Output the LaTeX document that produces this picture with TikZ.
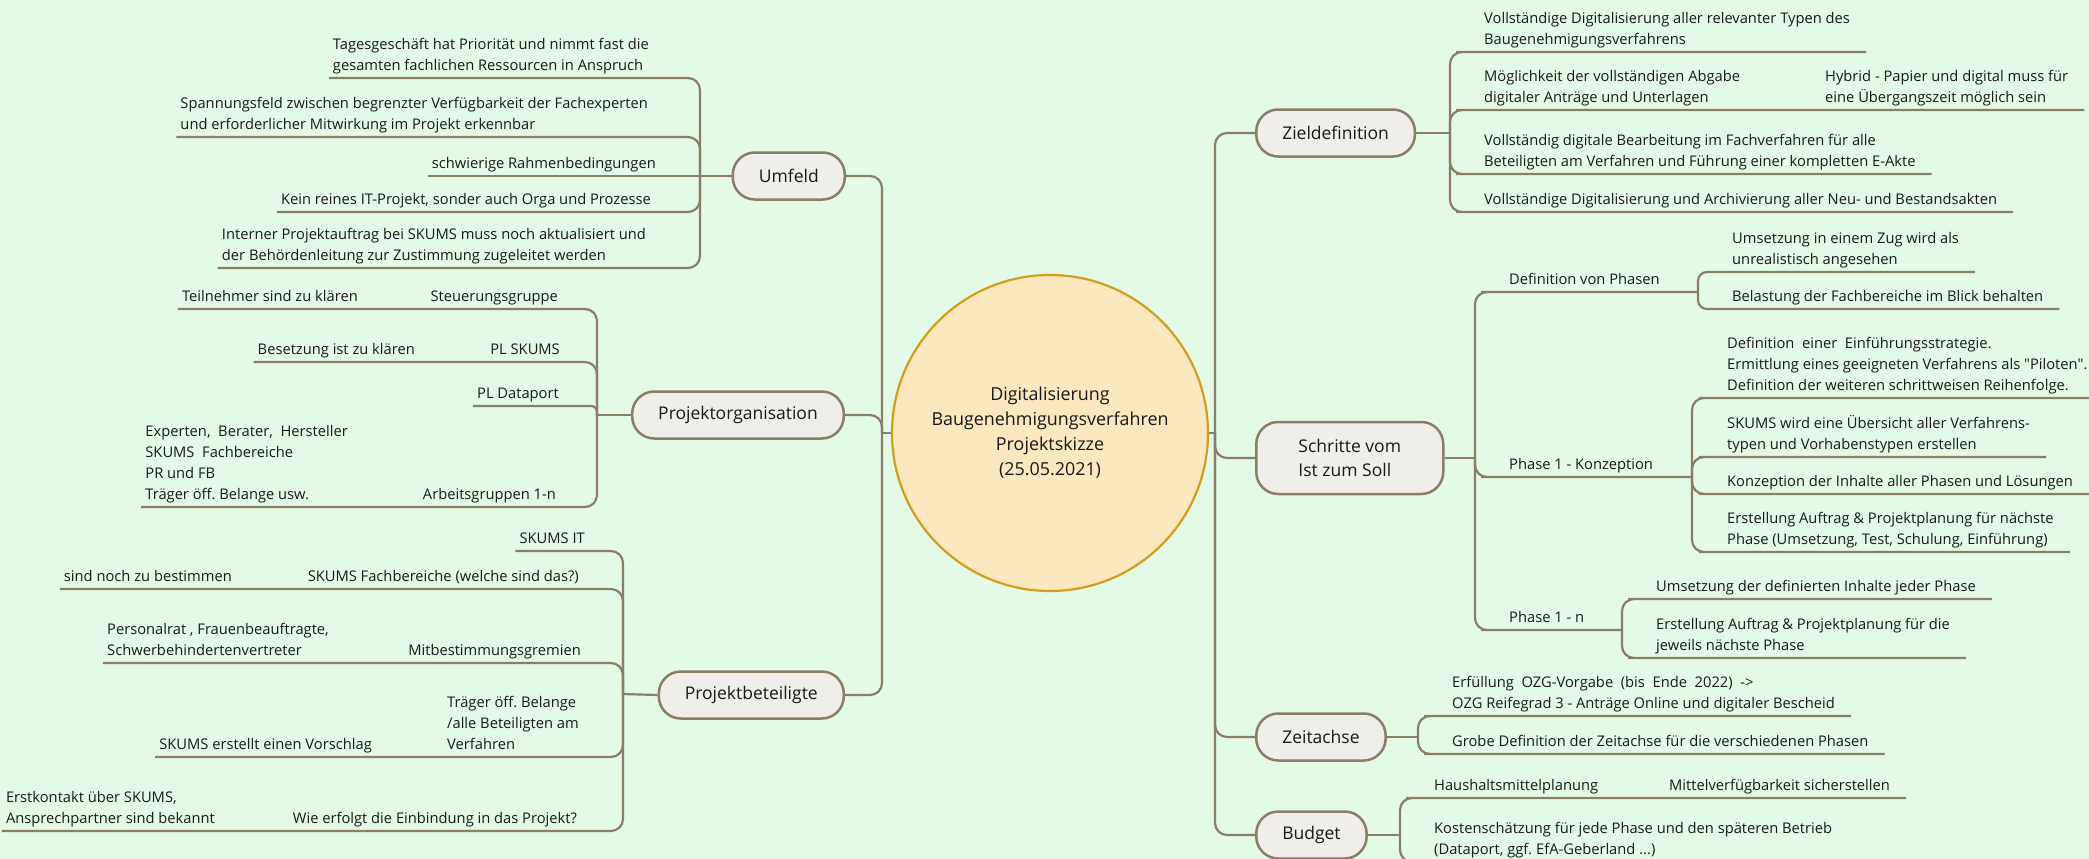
\documentclass[tikz,border=0pt]{standalone}
\usepackage{fontspec}
\setmainfont{Open Sans}
\frenchspacing

\definecolor{bgc}{RGB}{227,250,230}
\definecolor{linec}{RGB}{139,125,104}
\definecolor{topicfill}{RGB}{240,238,234}
\definecolor{hubfill}{RGB}{252,232,190}
\definecolor{hubline}{RGB}{212,157,30}
\definecolor{ink}{RGB}{25,25,25}

\begin{document}
\begin{tikzpicture}[x=1pt, y=-1pt,
    link/.style={draw=linec, line width=2.2pt, rounded corners=12pt},
    topic/.style={draw=linec, fill=topicfill, line width=2.5pt, rounded corners=22pt, minimum height=47pt, inner xsep=26pt, font=\fontsize{17.5}{24}\selectfont, text=ink},
    lleaf/.style={anchor=south east, align=left, inner xsep=4pt, inner ysep=1pt, font=\fontsize{14.7}{21}\selectfont, text=ink, execute at end node=\strut},
    rleaf/.style={lleaf, anchor=south west, inner xsep=16pt},
    hub/.style={circle, draw=hubline, fill=hubfill, line width=2.2pt, minimum size=316pt, align=center, font=\fontsize{17.9}{25}\selectfont, text=ink}
]
    \useasboundingbox (0,0) rectangle (2089,859);
    \clip (0,0) rectangle (2089,859);
    \fill[bgc] (0,0) rectangle (2089,859);

    % centre
    \node[hub] (hub) at (1050,433) {Digitalisierung\\Baugenehmigungsverfahren\\Projektskizze\\(25.05.2021)};
    \coordinate (ltr) at (882,433);
    \coordinate (rtr) at (1215,433);

    % left topics
    \node[topic, anchor=east] (umf) at (846,176) {Umfeld};
    \node[topic, anchor=east] (porg) at (845,415) {Projektorganisation};
    \node[topic, anchor=east] (pbet) at (845,695) {Projektbeteiligte};

    % right topics
    \node[topic, anchor=west] (zd) at (1255,133) {Zieldefinition};
    \node[topic, anchor=west, align=left, minimum height=72pt, minimum width=187pt] (sch) at (1255,458) {Schritte vom\\Ist zum Soll};
    \node[topic, anchor=west] (zeit) at (1255,737) {Zeitachse};
    \node[topic, anchor=west] (bud) at (1255,835) {Budget};

    \draw[link] (hub.west) -- (ltr);
    \draw[link] (ltr) |- (umf.east);
    \draw[link] (ltr) |- (porg.east);
    \draw[link] (ltr) |- (pbet.east);
    \draw[link] (hub.east) -- (rtr);
    \draw[link] (rtr) |- (zd.west);
    \draw[link] (rtr) |- (sch.west);
    \draw[link] (rtr) |- (zeit.west);
    \draw[link] (rtr) |- (bud.west);

    % Umfeld
    \coordinate (ubus) at (700,176);
    \node[lleaf] (u1) at (653,78) {Tagesgeschäft hat Priorität und nimmt fast die\\gesamten fachlichen Ressourcen in Anspruch};
    \node[lleaf] (u2) at (652,137) {Spannungsfeld zwischen begrenzter Verfügbarkeit der Fachexperten\\und erforderlicher Mitwirkung im Projekt erkennbar};
    \node[lleaf] (u3) at (660,176) {schwierige Rahmenbedingungen};
    \node[lleaf] (u4) at (655,212) {Kein reines IT-Projekt, sonder auch Orga und Prozesse};
    \node[lleaf] (u5) at (650,268) {Interner Projektauftrag bei SKUMS muss noch aktualisiert und\\der Behördenleitung zur Zustimmung zugeleitet werden};
    \draw[link] (umf.west) -- (ubus);
    \draw[link] (ubus) |- (u1.south east) -- (u1.south west);
    \draw[link] (ubus) |- (u2.south east) -- (u2.south west);
    \draw[link] (ubus) -- (u3.south east) -- (u3.south west);
    \draw[link] (ubus) |- (u4.south east) -- (u4.south west);
    \draw[link] (ubus) |- (u5.south east) -- (u5.south west);

    % Projektorganisation
    \coordinate (pobus) at (597,415);
    \node[lleaf] (sg) at (562,309) {Steuerungsgruppe};
    \node[lleaf] (tn) at (362,309) {Teilnehmer sind zu klären};
    \node[lleaf] (pls) at (564,362) {PL SKUMS};
    \node[lleaf] (bes) at (419,362) {Besetzung ist zu klären};
    \node[lleaf] (pld) at (563,406) {PL Dataport};
    \node[lleaf] (ag) at (560,507) {Arbeitsgruppen 1-n};
    \node[lleaf] (exp) at (352,507) {Experten,\ \ Berater,\ \ Hersteller\\SKUMS\ \ Fachbereiche\\PR und FB\\Träger öff. Belange usw.};
    \draw[link] (porg.west) -- (pobus);
    \draw[link] (pobus) |- (sg.south east) -- (tn.south west);
    \draw[link] (pobus) |- (pls.south east) -- (bes.south west);
    \draw[link, rounded corners=6pt] (pobus) |- (pld.south east) -- (pld.south west);
    \draw[link] (pobus) |- (ag.south east) -- (exp.south west);

    % Projektbeteiligte
    \coordinate (pbbus) at (623,694);
    \node[lleaf] (sit) at (589,551) {SKUMS IT};
    \node[lleaf] (sfb) at (583,589) {SKUMS Fachbereiche (welche sind das?)};
    \node[lleaf] (snb) at (236,589) {sind noch zu bestimmen};
    \node[lleaf] (mbg) at (585,663) {Mitbestimmungsgremien};
    \node[lleaf] (prf) at (333,663) {Personalrat , Frauenbeauftragte,\\Schwerbehindertenvertreter};
    \node[lleaf] (tob) at (583,757) {Träger öff. Belange\\/alle Beteiligten am\\Verfahren};
    \node[lleaf] (sev) at (376,757) {SKUMS erstellt einen Vorschlag};
    \node[lleaf] (wie) at (581,831) {Wie erfolgt die Einbindung in das Projekt?};
    \node[lleaf] (ek) at (219,831) {Erstkontakt über SKUMS,\\Ansprechpartner sind bekannt};
    \draw[link] (pbet.west) -- (pbbus);
    \draw[link] (pbbus) |- (sit.south east) -- (sit.south west);
    \draw[link] (pbbus) |- (sfb.south east) -- (snb.south west);
    \draw[link] (pbbus) |- (mbg.south east) -- (prf.south west);
    \draw[link] (pbbus) |- (tob.south east) -- (sev.south west);
    \draw[link] (pbbus) |- (wie.south east) -- (ek.south west);

    % Zieldefinition
    \coordinate (zdbus) at (1450,133);
    \node[rleaf] (z1) at (1468,52) {Vollständige Digitalisierung aller relevanter Typen des\\Baugenehmigungsverfahrens};
    \node[rleaf] (z2) at (1468,110) {Möglichkeit der vollständigen Abgabe\\digitaler Anträge und Unterlagen};
    \node[rleaf] (hyb) at (1809,110) {Hybrid - Papier und digital muss für\\eine Übergangszeit möglich sein};
    \node[rleaf] (z3) at (1468,174) {Vollständig digitale Bearbeitung im Fachverfahren für alle\\Beteiligten am Verfahren und Führung einer kompletten E-Akte};
    \node[rleaf] (z4) at (1468,212) {Vollständige Digitalisierung und Archivierung aller Neu- und Bestandsakten};
    \draw[link] (zd.east) -- (zdbus);
    \draw[link] (zdbus) |- (z1.south west) -- (z1.south east);
    \draw[link] (zdbus) |- (z2.south west) -- (hyb.south east);
    \draw[link] (zdbus) |- (z3.south west) -- (z3.south east);
    \draw[link] (zdbus) |- (z4.south west) -- (z4.south east);

    % Schritte vom Ist zum Soll
    \coordinate (schbus) at (1475,458);
    \node[rleaf] (dvp) at (1493,292) {Definition von Phasen};
    \coordinate (dvpbus) at (1698,292);
    \node[rleaf] (d1) at (1716,272) {Umsetzung in einem Zug wird als\\unrealistisch angesehen};
    \node[rleaf] (d2) at (1716,309) {Belastung der Fachbereiche im Blick behalten};
    \node[rleaf] (p1k) at (1493,477) {Phase 1 - Konzeption};
    \coordinate (p1kbus) at (1692,477);
    \node[rleaf] (k1) at (1711,398) {Definition\ \ einer\ \ Einführungsstrategie.\\Ermittlung eines geeigneten Verfahrens als \textquotedbl Piloten\textquotedbl.\\Definition der weiteren schrittweisen Reihenfolge.};
    \node[rleaf] (k2) at (1711,457) {SKUMS wird eine Übersicht aller Verfahrens-\\typen und Vorhabenstypen erstellen};
    \node[rleaf] (k3) at (1711,494) {Konzeption der Inhalte aller Phasen und Lösungen};
    \node[rleaf] (k4) at (1711,552) {Erstellung Auftrag \& Projektplanung für nächste\\Phase (Umsetzung, Test, Schulung, Einführung)};
    \node[rleaf] (p1n) at (1493,630) {Phase 1 - n};
    \coordinate (p1nbus) at (1622,630);
    \node[rleaf] (n1) at (1640,599) {Umsetzung der definierten Inhalte jeder Phase};
    \node[rleaf] (n2) at (1640,658) {Erstellung Auftrag \& Projektplanung für die\\jeweils nächste Phase};
    \draw[link] (sch.east) -- (schbus);
    \draw[link] (schbus) |- (dvp.south west) -- (dvpbus);
    \draw[link] (schbus) |- (p1k.south west) -- (p1kbus);
    \draw[link] (schbus) |- (p1n.south west) -- (p1nbus);
    \draw[link, rounded corners=9pt] (dvpbus) |- (d1.south west) -- (d1.south east);
    \draw[link, rounded corners=9pt] (dvpbus) |- (d2.south west) -- (d2.south east);
    \draw[link] (p1kbus) |- (k1.south west) -- (k1.south east);
    \draw[link] (p1kbus) |- (k2.south west) -- (k2.south east);
    \draw[link] (p1kbus) |- (k3.south west) -- (k3.south east);
    \draw[link] (p1kbus) |- (k4.south west) -- (k4.south east);
    \draw[link] (p1nbus) |- (n1.south west) -- (n1.south east);
    \draw[link] (p1nbus) |- (n2.south west) -- (n2.south east);

    % Zeitachse
    \coordinate (zbus) at (1418,737);
    \node[rleaf] (t1) at (1436,716) {Erfüllung\ \ OZG-Vorgabe\ \ (bis\ \ Ende\ \ 2022)\ \ ->\\OZG Reifegrad 3 - Anträge Online und digitaler Bescheid};
    \node[rleaf] (t2) at (1436,754) {Grobe Definition der Zeitachse für die verschiedenen Phasen};
    \draw[link] (zeit.east) -- (zbus);
    \draw[link] (zbus) |- (t1.south west) -- (t1.south east);
    \draw[link] (zbus) |- (t2.south west) -- (t2.south east);

    % Budget
    \coordinate (bbus) at (1400,835);
    \node[rleaf] (b1) at (1418,798) {Haushaltsmittelplanung};
    \node[rleaf] (b1a) at (1653,798) {Mittelverfügbarkeit sicherstellen};
    \node[rleaf] (b2) at (1418,862) {Kostenschätzung für jede Phase und den späteren Betrieb\\(Dataport, ggf. EfA-Geberland ...)};
    \draw[link] (bud.east) -- (bbus);
    \draw[link] (bbus) |- (b1.south west) -- (b1a.south east);
    \draw[link] (bbus) |- (b2.south west) -- (b2.south east);
\end{tikzpicture}
\end{document}
